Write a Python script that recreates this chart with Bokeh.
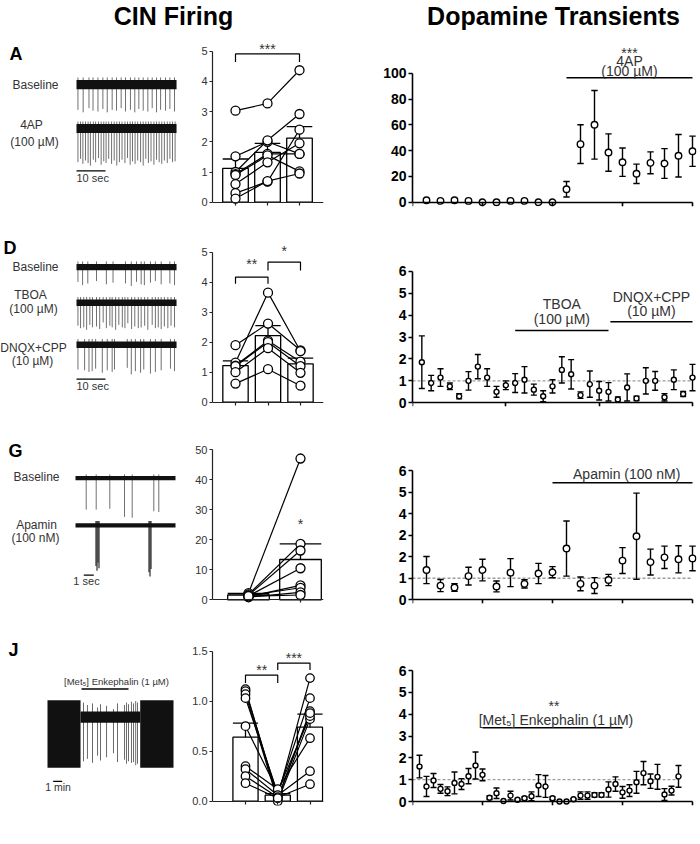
import math
from bokeh.plotting import figure
from bokeh.layouts import column, row
from bokeh.models import Label, Range1d
from bokeh.embed import file_html
from bokeh.resources import INLINE

FONT = "Liberation Sans"

# ======================= DATA =======================
# --- A: CIN firing traces (spike times s, spike depth) ---
A_dur = 34.5
A_base_t = [0.5, 2.3, 4.3, 5.7, 7.4, 9.1, 10.6, 12.3, 13.8, 15.4, 16.9, 18.6, 20.1, 21.5, 23.0, 24.6, 26.1, 27.6, 29.0, 30.7, 32.2, 33.8]
A_base_d = [30, 33, 28, 31, 32, 29, 33, 30, 31, 28, 32, 30, 33, 29, 31, 32, 28, 33, 30, 31, 29, 32]
A_4ap_t = [0.5, 1.4, 2.2, 3.1, 4.0, 4.8, 5.8, 6.6, 7.6, 8.5, 9.4, 10.2, 11.1, 12.1, 13.0, 13.9, 14.8, 15.7, 16.7,
           17.6, 18.5, 19.3, 20.2, 21.1, 22.1, 23.0, 23.9, 24.8, 25.7, 26.7, 27.6, 28.5, 29.4, 30.3, 31.3, 32.2, 33.1, 34.0]
A_4ap_d = [40, 36, 42, 38, 41, 44, 37, 40, 35, 43, 39, 41, 36, 42, 38, 44, 40, 37, 41,
           35, 43, 39, 42, 38, 40, 44, 36, 41, 39, 43, 37, 40, 42, 38, 41, 36, 40, 39]
# --- D ---
D_dur = 34.5
D_base_t = [0.5, 2.1, 3.9, 6.9, 10.3, 12.6, 16.9, 18.9, 20.7, 22.3, 23.4, 25.5, 27.2, 29.2, 32.2, 33.8]
D_base_d = [18, 22, 20, 17, 21, 19, 20, 23, 18, 21, 22, 19, 17, 21, 20, 22]
D_tboa_t = [0.5, 1.4, 2.5, 3.5, 4.6, 5.5, 6.9, 8.0, 9.2, 10.3, 11.5, 12.3, 13.5, 14.6, 15.8, 16.7, 17.7, 19.0, 20.1,
            21.3, 22.3, 23.5, 24.6, 26.1, 27.2, 28.2, 29.2, 30.3, 31.5, 32.6, 33.8]
D_tboa_d = [28, 31, 30, 33, 27, 30, 29, 32, 24, 31, 28, 30, 33, 27, 30, 31, 25, 32, 29,
            31, 30, 28, 33, 27, 31, 30, 32, 29, 31, 28, 30]
D_dnqx_t = [0.5, 2.8, 4.3, 5.4, 6.6, 8.9, 10.6, 12.3, 13.1, 17.5, 18.9, 20.3, 22.1, 23.2, 25.5, 27.2, 29.2, 32.4, 33.8]
D_dnqx_d = [30, 31, 33, 32, 29, 34, 31, 33, 30, 28, 36, 32, 34, 30, 35, 33, 31, 29, 32]
# --- G ---
G_dur = 10.0
G_base_t = [1.07, 2.07, 3.43, 4.9, 5.67, 7.83, 8.33]
G_base_d = [39, 39, 38, 48, 49, 41, 42]
G_apa_t = [2.05, 2.15, 2.25, 2.35, 7.35, 7.45, 7.55]
G_apa_d = [50, 56, 46, 53, 58, 63, 54]
# --- J (minutes) ---
J_fire_start = [0.0, 10.3]
J_fire_end = [3.67, 14.0]
J_quiet = (3.67, 10.3)
J_mid_t = [4.0, 4.44, 5.0, 5.56, 5.89, 6.56, 7.33, 7.78, 8.56, 8.78, 9.0, 9.33, 9.56, 9.8, 10.0]
J_mid_up = [18, 15, 17, 12, 16, 14, 10, 17, 15, 18, 16, 19, 17, 20, 18]
J_mid_dn = [55, 52, 57, 48, 54, 50, 45, 56, 53, 58, 55, 57, 56, 60, 58]
J_treat = (3.78, 9.0)

# --- B ---
B_cats = ["BL", "30", "100"]
B_mean = [1.12, 1.65, 2.12]
B_sem = [0.31, 0.30, 0.38]
B_cells = [[3.03, 3.27, 4.37], [1.52, 2.00, 1.60], [1.00, 2.05, 2.92], [0.93, 1.60, 1.60],
           [0.90, 1.55, 1.02], [0.60, 1.32, 1.95], [0.30, 0.68, 2.40], [0.12, 0.70, 0.95]]
# --- E ---
E_cats = ["BL", "TBOA", "DNQX"]
E_mean = [1.22, 2.22, 1.28]
E_sem = [0.16, 0.33, 0.19]
E_cells = [[1.90, 2.62, 1.73], [1.32, 3.65, 1.70], [1.22, 2.05, 1.35],
           [1.20, 2.00, 1.20], [1.00, 1.80, 0.98], [0.62, 1.10, 0.55]]
# --- H ---
H_cats = ["BL", "Apamin"]
H_mean = [1.6, 13.4]
H_sem = [0.5, 5.2]
H_cells = [[2.2, 47.0], [1.8, 18.6], [1.5, 16.4], [1.3, 10.5], [1.1, 4.8], [1.4, 4.0], [0.9, 2.5], [1.2, 1.6]]
# --- K ---
K_cats = ["BL", "ME", "Wash"]
K_mean = [0.64, 0.06, 0.74]
K_sem = [0.14, 0.015, 0.13]
K_cells = [[1.12, 0.02, 0.90], [1.10, 0.05, 1.23], [1.07, 0.00, 0.82], [1.03, 0.08, 1.03], [0.75, 0.10, 0.85],
           [0.35, 0.12, 0.63], [0.32, 0.06, 0.30], [0.25, 0.04, 0.17], [0.18, 0.03, 0.88]]

# --- C ---
C_t = list(range(1, 21))
C_m = [1.5, 1.0, 1.5, 1.0, 0.0, 0.0, 1.0, 1.0, 0.0, 0.0, 10, 45, 60, 38.5, 31, 22, 30.5, 30, 36, 39.5]
C_s = [0.5, 0.3, 0.5, 0.4, 0.2, 0.2, 0.3, 0.4, 0.2, 0.2, 6, 15, 26.6, 14.5, 11, 7.5, 8.5, 11.5, 16.5, 11.7]
C_treat = (11, 20)
# --- F ---
F_t = list(range(1, 31))
F_m = [1.85, 0.9, 1.15, 0.75, 0.3, 1.0, 1.65, 1.15, 0.5, 0.8, 0.9, 1.05, 0.6, 0.3, 0.75, 1.5, 1.3, 0.35, 0.85, 0.55,
       0.5, 0.15, 0.7, 0.2, 1.0, 1.0, 0.25, 1.05, 0.4, 1.15]
F_s = [1.2, 0.35, 0.4, 0.15, 0.12, 0.42, 0.55, 0.4, 0.25, 0.2, 0.43, 0.6, 0.25, 0.25, 0.3, 0.6, 0.67, 0.15, 0.6, 0.42,
       0.42, 0.12, 0.62, 0.1, 0.6, 0.43, 0.17, 0.45, 0.12, 0.6]
F_treat1 = (11, 21)
F_treat2 = (21.2, 30)
# --- I ---
I_t = list(range(1, 21))
I_m = [1.38, 0.66, 0.57, 1.1, 1.38, 0.62, 1.26, 0.74, 1.22, 1.28, 2.38, 0.74, 0.66, 0.92, 1.82, 2.95, 1.75, 1.97, 1.88, 1.92]
I_s = [0.63, 0.28, 0.18, 0.41, 0.5, 0.25, 0.65, 0.19, 0.47, 0.26, 1.28, 0.32, 0.37, 0.26, 0.6, 2.0, 0.6, 0.52, 0.63, 0.57]
I_treat = (10, 20)
I_tick_labels = {0: "0", 1: "1", 2: "2", 3: "2", 4: "4", 5: "5", 6: "6"}
# --- L ---
L_t = list(range(1, 39))
L_m = [1.6, 0.69, 0.96, 0.58, 0.47, 0.85, 0.8, 1.16, 1.65, 1.22, 0.17, 0.38, 0.02, 0.27, 0.08, 0.15, 0.24, 0.73, 0.69,
       0.15, 0.0, 0.0, 0.1, 0.27, 0.27, 0.3, 0.3, 0.55, 0.8, 0.42, 0.5, 0.88, 1.3, 0.93, 1.13, 0.32, 0.5, 1.15]
L_s = [0.52, 0.46, 0.32, 0.2, 0.2, 0.5, 0.25, 0.35, 0.62, 0.27, 0.08, 0.24, 0.0, 0.2, 0.03, 0.07, 0.2, 0.5, 0.5,
       0.07, 0.0, 0.0, 0.03, 0.17, 0.17, 0.1, 0.1, 0.35, 0.33, 0.27, 0.27, 0.5, 0.53, 0.33, 0.57, 0.27, 0.2, 0.5]
L_treat = (10, 30)
NORM = 1.0

# ======================= LAYOUT =======================
COL1, COL2, COL3 = (0, 178), (178, 162), (340, 360)
ROW1, ROW2, ROW3, ROW4 = (30, 207), (237, 203), (440, 199), (639, 204)
GRAY = "#333333"
TX0 = 412          # x pixel of time zero in the right-hand column
TFR = 696          # right edge of right-hand frames


def new_fig(col, rowb, frame, X0, ppx, Y0, ppy, axes=True):
    cx, cw = col
    ry, rh = rowb
    fl, fr, ft, fb = frame if frame else (cx, cx + cw, ry, ry + rh)
    p = figure(width=cw, height=rh, output_backend="svg", toolbar_location=None,
               x_range=Range1d((fl - X0) / ppx, (fr - X0) / ppx),
               y_range=Range1d((Y0 - fb) / ppy, (Y0 - ft) / ppy),
               min_border_left=fl - cx, min_border_right=cx + cw - fr,
               min_border_top=ft - ry, min_border_bottom=ry + rh - fb,
               x_axis_location="below" if axes else None,
               y_axis_location="left" if axes else None)
    p.outline_line_color = None
    p.xgrid.visible = False
    p.ygrid.visible = False
    p.grid.grid_line_color = None
    dx = lambda px: (px - X0) / ppx
    dy = lambda py: (Y0 - py) / ppy
    return p, dx, dy


def lab(p, x, y, text, size, bold=False, color="#1a1a1a", align="center", baseline="middle", angle=0.0):
    p.add_layout(Label(x=x, y=y, text=text, text_font=FONT, text_font_size=f"{size}px",
                       text_font_style="bold" if bold else "normal", text_color=color,
                       text_align=align, text_baseline=baseline, angle=angle))


def style_axes(p, lw, tl, fs, bold, color, lcolor):
    for ax in (p.xaxis[0], p.yaxis[0]):
        ax.axis_line_width = lw
        ax.axis_line_color = lcolor
        ax.major_tick_line_width = lw
        ax.major_tick_line_color = lcolor
        ax.major_tick_out = tl
        ax.major_tick_in = 0
        ax.minor_tick_line_color = None
        ax.major_label_text_font = FONT
        ax.major_label_text_font_size = f"{fs}px"
        ax.major_label_text_font_style = "bold" if bold else "normal"
        ax.major_label_text_color = color
        ax.major_label_standoff = 2


def trace(p, dy, dur, yc_px, half, st, sd, up=3, color="#707070", lw=1.0, band="#111111"):
    yc = dy(yc_px)
    p.segment(x0=st, x1=st, y0=[yc + half + up] * len(st), y1=[yc - d for d in sd],
              line_color=color, line_width=lw)
    p.quad(left=[0], right=[dur], bottom=[yc - half], top=[yc + half], fill_color=band, line_color=None)


def time_panel(p, dx, dy, ppx, t, m, s, xticks, yticks, size, cap_px=3.2, dashed=False):
    if dashed:
        p.line(x=[0, t[-1]], y=[NORM, NORM], line_color="#9c9c9c", line_dash="3 2", line_width=1.4)
    et = [a for a, e in zip(t, s) if e > 0]
    lo = [max(0.0, a - e) for a, e in zip(m, s) if e > 0]
    hi = [a + e for a, e in zip(m, s) if e > 0]
    hw = cap_px / ppx
    p.segment(x0=et, x1=et, y0=lo, y1=hi, line_color="black", line_width=1.4)
    p.segment(x0=[a - hw for a in et], x1=[a + hw for a in et], y0=hi, y1=hi, line_color="black", line_width=1.4)
    p.segment(x0=[a - hw for a in et], x1=[a + hw for a in et], y0=lo, y1=lo, line_color="black", line_width=1.4)
    p.scatter(x=t, y=m, size=size, marker="circle", fill_color="white", line_color="black", line_width=1.4)
    p.xaxis.ticker = xticks
    p.xaxis.bounds = (0, xticks[-1])
    p.xaxis.fixed_location = 0
    p.yaxis.ticker = yticks
    p.yaxis.bounds = (0, yticks[-1])
    style_axes(p, 1.6, 4, 14, True, "black", "black")


def ylab2(p, dx, dy, yc):
    lab(p, dx(362), dy(yc), "Dopamine Transient", 14.5, True, "black", angle=math.pi / 2)
    lab(p, dx(378), dy(yc), "Freq/min (norm)", 14.5, True, "black", angle=math.pi / 2)


def treat(p, rng, lvl):
    p.segment(x0=[rng[0]], x1=[rng[1]], y0=[lvl], y1=[lvl], line_color="black", line_width=1.6)


def bar_panel(p, means, sems, cells, width, yticks, labels, csize=9):
    xs = list(range(len(means)))
    p.vbar(x=xs, top=means, bottom=0, width=width, fill_color="white", line_color="black", line_width=1.3)
    tops = [a + b for a, b in zip(means, sems)]
    p.segment(x0=xs, x1=xs, y0=means, y1=tops, line_color="black", line_width=1.3)
    p.segment(x0=[x - width / 2 for x in xs], x1=[x + width / 2 for x in xs], y0=tops, y1=tops,
              line_color="black", line_width=1.3)
    for c in cells:
        p.line(x=xs, y=c, line_color="black", line_width=1.2)
    for c in cells:
        p.scatter(x=xs, y=c, size=csize, marker="circle", fill_color="white", line_color="black", line_width=1.3)
    p.xaxis.ticker = xs
    p.xaxis.major_label_overrides = {i: l for i, l in zip(xs, labels)}
    p.xaxis.fixed_location = 0
    p.yaxis.ticker = yticks
    p.yaxis.bounds = (0, yticks[-1])
    style_axes(p, 1.2, 3, 11, False, GRAY, "#222222")


def bracket(p, a, b, top, leg):
    p.line(x=[a, a, b, b], y=[leg, top, top, leg], line_color="black", line_width=1.2)


def letter(p, dx, dy, px, py, t):
    lab(p, dx(px), dy(py), t, 18, True, "black", align="left")


# ---------------- title row ----------------
pt = figure(width=700, height=30, output_backend="svg", toolbar_location=None,
            x_range=Range1d(0, 700), y_range=Range1d(0, 30), x_axis_location=None, y_axis_location=None,
            min_border_left=0, min_border_right=0, min_border_top=0, min_border_bottom=0)
pt.outline_line_color = None
pt.grid.grid_line_color = None
pt.grid.visible = False
lab(pt, 173, 30 - 15, "CIN Firing", 25, True, "black")
lab(pt, 553, 30 - 15, "Dopamine Transients", 25, True, "black")

# ---------------- row 1 ----------------
pA, dxA, dyA = new_fig(COL1, ROW1, None, 76, 2.9, 0, 1, axes=False)
trace(pA, dyA, A_dur, 92, 5.5, A_base_t, A_base_d)
trace(pA, dyA, A_dur, 144.3, 5.4, A_4ap_t, A_4ap_d)
lab(pA, dxA(35), dyA(92), "Baseline", 12, color=GRAY)
lab(pA, dxA(31), dyA(140), "4AP", 12, color=GRAY)
lab(pA, dxA(34), dyA(160), "(100 µM)", 12, color=GRAY)
pA.segment(x0=[0], x1=[10], y0=[dyA(194.5)], y1=[dyA(194.5)], line_color="black", line_width=1.3)
lab(pA, dxA(76), dyA(203), "10 sec", 11, color=GRAY, align="left")
letter(pA, dxA, dyA, 9, 55, "A")

pB, dxB, dyB = new_fig(COL2, ROW1, (212, 323, 32, 206), 235, 32, 201.7, 30.2)
bar_panel(pB, B_mean, B_sem, B_cells, 0.8, [0, 1, 2, 3, 4, 5], B_cats)
bracket(pB, 0, 2, 4.91, 4.64)
lab(pB, 1, dyB(48.5), "***", 14, color=GRAY)
lab(pB, dxB(195), dyB(137), "Firing Freq (Hz)", 12, color=GRAY, angle=math.pi / 2)
lab(pB, dxB(283), dyB(228), "[4AP] (µM)", 11, color=GRAY)
letter(pB, dxB, dyB, 180, 55, "B")

pC, dxC, dyC = new_fig(COL3, ROW1, (TX0, TFR, 32, 206), TX0, 14, 201.7, 1.29)
treat(pC, C_treat, dyC(77.3))
time_panel(pC, dxC, dyC, 14, C_t, C_m, C_s, [0, 5, 10, 15, 20], [0, 20, 40, 60, 80, 100], 6.5)
lab(pC, 15.5, dyC(52), "***", 14, color=GRAY)
lab(pC, 15.5, dyC(60), "4AP", 14, color=GRAY)
lab(pC, 15.5, dyC(70.5), "(100 µM)", 14, color=GRAY)
ylab2(pC, dxC, dyC, 128)
lab(pC, dxC(556), dyC(229.5), "Time (min)", 14, True, "black")
letter(pC, dxC, dyC, 342, 56, "C")

# ---------------- row 2 ----------------
pD, dxD, dyD = new_fig(COL1, ROW2, None, 76, 2.9, 0, 1, axes=False)
trace(pD, dyD, D_dur, 270.5, 3.8, D_base_t, D_base_d)
trace(pD, dyD, D_dur, 313.8, 3.9, D_tboa_t, D_tboa_d)
trace(pD, dyD, D_dur, 365, 4.0, D_dnqx_t, D_dnqx_d)
lab(pD, dxD(35), dyD(270), "Baseline", 12, color=GRAY)
lab(pD, dxD(30), dyD(305), "TBOA", 12, color=GRAY)
lab(pD, dxD(33), dyD(321), "(100 µM)", 12, color=GRAY)
lab(pD, dxD(33), dyD(369), "DNQX+CPP", 12, color=GRAY)
lab(pD, dxD(32), dyD(385), "(10 µM)", 12, color=GRAY)
pD.segment(x0=[0], x1=[10], y0=[dyD(406.7)], y1=[dyD(406.7)], line_color="black", line_width=1.3)
lab(pD, dxD(76), dyD(415), "10 sec", 11, color=GRAY, align="left")
letter(pD, dxD, dyD, 3, 247, "D")

pE, dxE, dyE = new_fig(COL2, ROW2, (212, 323, 239, 407), 235, 32.5, 402.7, 30.2)
bar_panel(pE, E_mean, E_sem, E_cells, 0.78, [0, 1, 2, 3, 4, 5], E_cats)
bracket(pE, 0, 1, 4.17, 3.95)
bracket(pE, 1, 2, 4.67, 4.39)
lab(pE, 0.5, dyE(263.5), "**", 14, color=GRAY)
lab(pE, 1.5, dyE(251), "*", 14, color=GRAY)
lab(pE, dxE(195), dyE(342), "Firing Freq (Hz)", 12, color=GRAY, angle=math.pi / 2)
lab(pE, 2, dyE(424.5), "+CPP", 11, color=GRAY)
letter(pE, dxE, dyE, 182, 247, "E")

pF, dxF, dyF = new_fig(COL3, ROW2, (TX0, TFR, 239, 406), TX0, 280 / 30, 402.3, 21.93)
treat(pF, F_treat1, dyF(330))
treat(pF, F_treat2, dyF(321.3))
time_panel(pF, dxF, dyF, 280 / 30, F_t, F_m, F_s, [0, 10, 20, 30], [0, 1, 2, 3, 4, 5, 6], 5, 3.0, dashed=True)
lab(pF, 16, dyF(303.3), "TBOA", 14, color=GRAY)
lab(pF, 16, dyF(318.3), "(100 µM)", 14, color=GRAY)
lab(pF, 25.6, dyF(296), "DNQX+CPP", 14, color=GRAY)
lab(pF, 25.6, dyF(310), "(10 µM)", 14, color=GRAY)
ylab2(pF, dxF, dyF, 336)
lab(pF, dxF(556), dyF(417), "Time (min)", 14, True, "black")
letter(pF, dxF, dyF, 342, 247, "F")

# ---------------- row 3 ----------------
pG, dxG, dyG = new_fig(COL1, ROW3, None, 75, 10, 0, 1, axes=False)
trace(pG, dyG, G_dur, 484, 2.6, G_base_t, G_base_d, up=2)
trace(pG, dyG, G_dur, 542.5, 2.6, G_apa_t, G_apa_d, up=3, color="#2a2a2a", lw=1.2)
lab(pG, dxG(36), dyG(483), "Baseline", 12, color=GRAY)
lab(pG, dxG(36), dyG(541.7), "Apamin", 12, color=GRAY)
lab(pG, dxG(35), dyG(558), "(100 nM)", 12, color=GRAY)
pG.segment(x0=[0.83], x1=[1.83], y0=[dyG(604)], y1=[dyG(604)], line_color="black", line_width=1.3)
lab(pG, dxG(86), dyG(611.5), "1 sec", 11, color=GRAY)
letter(pG, dxG, dyG, 8, 451, "G")

pH, dxH, dyH = new_fig(COL2, ROW3, (212, 323, 442, 603), 248, 52, 599.3, 3.006)
bar_panel(pH, H_mean, H_sem, H_cells, 0.8, [0, 10, 20, 30, 40, 50], H_cats)
lab(pH, 1, dyH(523), "*", 14, color=GRAY)
lab(pH, dxH(193), dyH(527), "Firing Freq (Hz)", 12, color=GRAY, angle=math.pi / 2)
letter(pH, dxH, dyH, 182, 451, "H")

pI, dxI, dyI = new_fig(COL3, ROW3, (TX0, TFR, 442, 603), TX0, 14, 599.3, 21.55)
treat(pI, I_treat, dyI(482.3))
time_panel(pI, dxI, dyI, 14, I_t, I_m, I_s, [0, 5, 10, 15, 20], [0, 1, 2, 3, 4, 5, 6], 6.5, dashed=True)
pI.yaxis.major_label_overrides = I_tick_labels
lab(pI, 15.3, dyI(473.3), "Apamin (100 nM)", 14, color=GRAY)
ylab2(pI, dxI, dyI, 534)
lab(pI, dxI(556), dyI(630), "Time (min)", 14, True, "black")
letter(pI, dxI, dyI, 342, 451, "I")

# ---------------- row 4 ----------------
pJ, dxJ, dyJ = new_fig(COL1, ROW4, None, 47, 9, 0, 1, axes=False)
yJ = dyJ(733)
pJ.segment(x0=J_mid_t, x1=J_mid_t, y0=[yJ + u for u in J_mid_up], y1=[yJ - d for d in J_mid_dn],
           line_color="#6a6a6a", line_width=1.0)
pJ.quad(left=[J_quiet[0]], right=[J_quiet[1]], bottom=[yJ - 7], top=[yJ + 7], fill_color="#111111", line_color=None)
pJ.quad(left=J_fire_start, right=J_fire_end, bottom=[yJ - 63] * 2, top=[yJ + 21] * 2,
        fill_color="#111111", line_color=None)
treat(pJ, J_treat, dyJ(698))
lab(pJ, dxJ(116), dyJ(689), "[Met\u2085] Enkephalin (1 µM)", 9.5, color=GRAY)
pJ.segment(x0=[0.63], x1=[1.63], y0=[dyJ(813)], y1=[dyJ(813)], line_color="black", line_width=1.3)
lab(pJ, dxJ(57.5), dyJ(820.5), "1 min", 10.5, color=GRAY)
letter(pJ, dxJ, dyJ, 8, 650, "J")

pK, dxK, dyK = new_fig(COL2, ROW4, (212, 323, 641, 806), 245, 32.25, 801.7, 100.7)
bar_panel(pK, K_mean, K_sem, K_cells, 0.78, [0, 0.5, 1.0, 1.5], K_cats, csize=8.5)
pK.yaxis.major_label_overrides = {0: "0.0", 0.5: "0.5", 1: "1.0", 1.5: "1.5"}
bracket(pK, 0, 1, 1.26, 1.18)
bracket(pK, 1, 2, 1.38, 1.31)
lab(pK, 0.5, dyK(669.5), "**", 14, color=GRAY)
lab(pK, 1.5, dyK(657.5), "***", 14, color=GRAY)
lab(pK, dxK(193), dyK(728), "Firing Freq (Hz)", 12, color=GRAY, angle=math.pi / 2)
lab(pK, 1, dyK(825), "(1 µM)", 11, color=GRAY)
letter(pK, dxK, dyK, 182, 650, "K")

pL, dxL, dyL = new_fig(COL3, ROW4, (TX0, TFR, 641, 805), TX0, 7, 801, 21.83)
treat(pL, L_treat, dyL(727.3))
time_panel(pL, dxL, dyL, 7, L_t, L_m, L_s, [0, 10, 20, 30, 40], [0, 1, 2, 3, 4, 5, 6], 5, 3.0, dashed=True)
lab(pL, 20.2, dyL(705), "**", 14, color=GRAY)
lab(pL, 20.5, dyL(719.3), "[Met\u2085] Enkephalin (1 µM)", 14, color=GRAY)
ylab2(pL, dxL, dyL, 732)
lab(pL, dxL(556), dyL(830), "Time (min)", 14, True, "black")
letter(pL, dxL, dyL, 342, 650, "L")

layout = column(pt, row(pA, pB, pC), row(pD, pE, pF), row(pG, pH, pI), row(pJ, pK, pL))
open("out.html", "w").write(file_html(layout, INLINE, "Figure"))
